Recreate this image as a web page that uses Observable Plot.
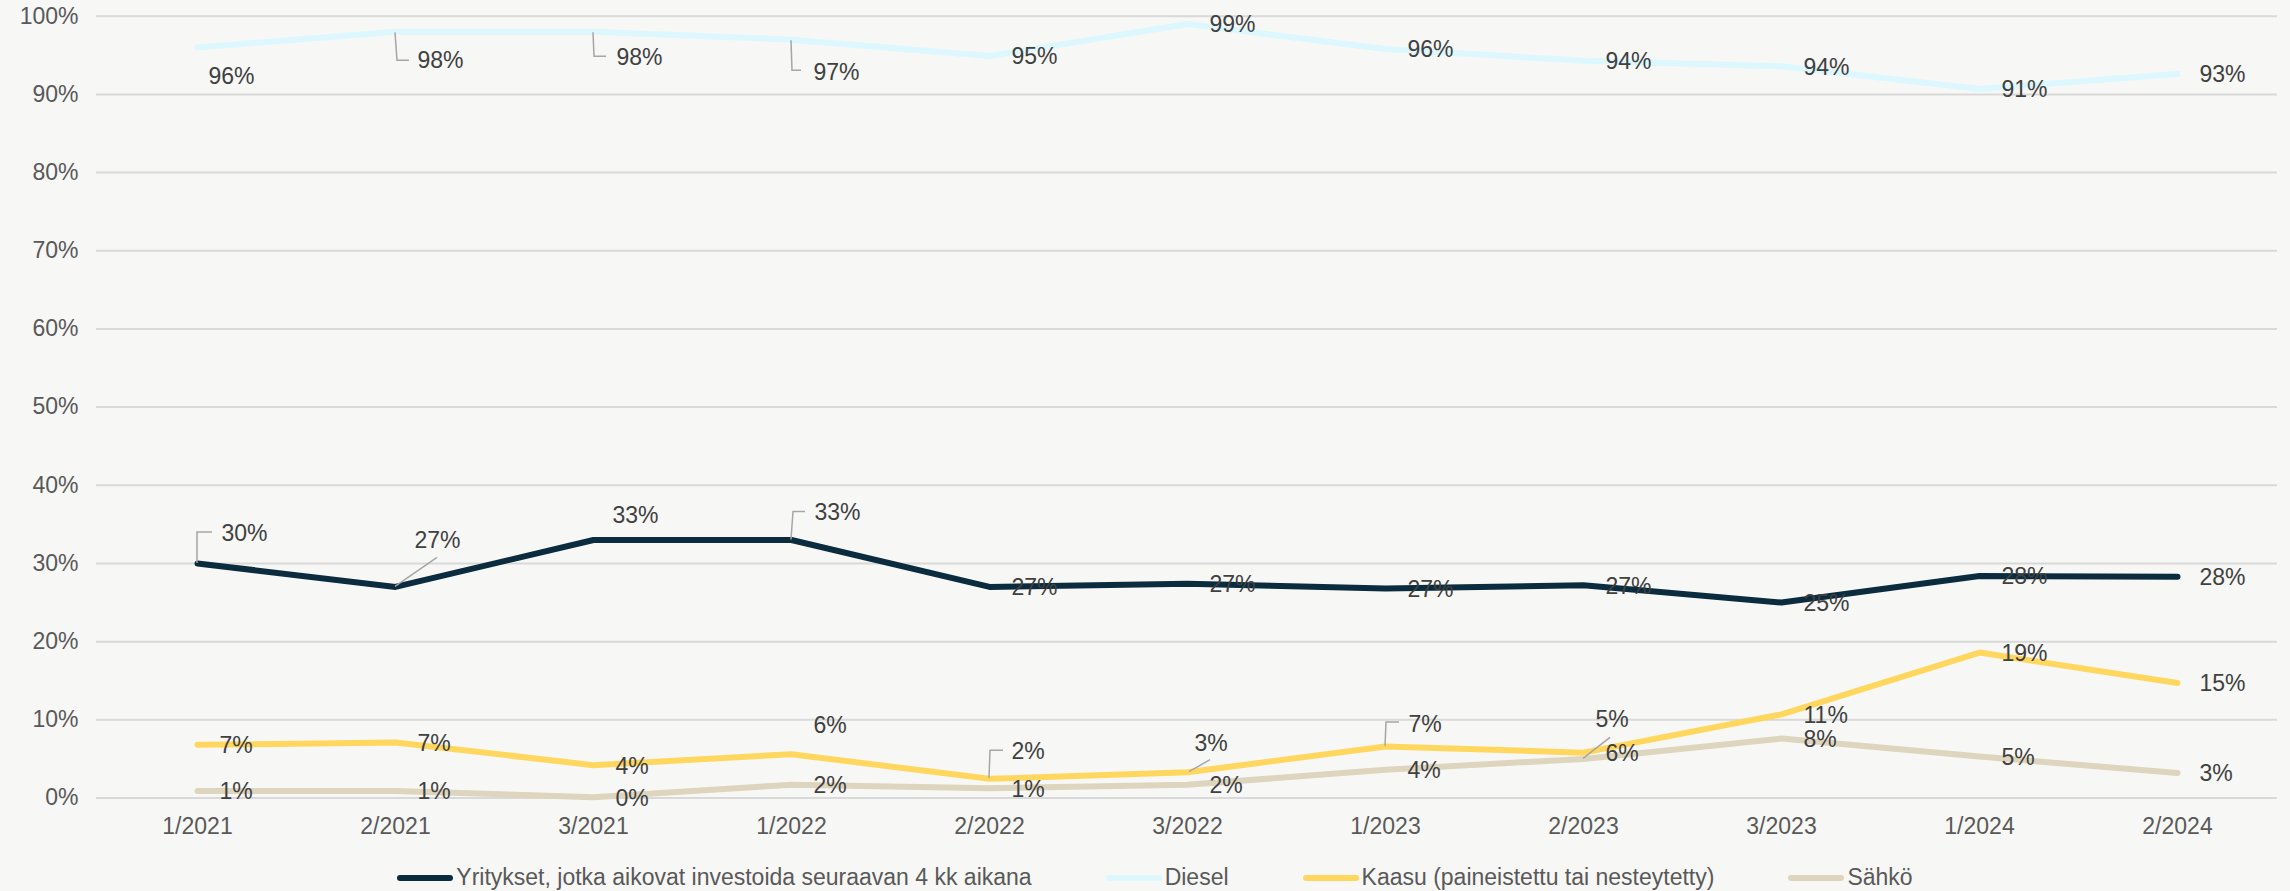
<!DOCTYPE html>
<html><head><meta charset="utf-8">
<script src="https://cdn.jsdelivr.net/npm/d3@7"></script>
<script src="https://cdn.jsdelivr.net/npm/@observablehq/plot@0.6"></script>
<style>
html,body{margin:0;padding:0;background:#f7f7f5;}
#chart{width:2290px;height:891px;font-family:Arial,"Liberation Sans",sans-serif;}
#legend{display:flex;justify-content:center;align-items:center;height:29px;gap:74px;color:#595959;font-size:23px;padding-left:20px;padding-top:1px;}
.item{display:flex;align-items:center;white-space:nowrap;}
.sw{width:56px;height:6px;border-radius:3px;margin-right:3px;}
</style></head><body><div id="chart"></div>
<script>
// ---- data ----
const periods = ["1/2021","2/2021","3/2021","1/2022","2/2022","3/2022","1/2023","2/2023","3/2023","1/2024","2/2024"];
const yritykset = [30.0, 27.0, 33.0, 33.0, 27.0, 27.4, 26.8, 27.2, 25.0, 28.4, 28.3];
const diesel    = [96.0, 98.0, 98.0, 97.0, 94.9, 99.0, 95.8, 94.3, 93.6, 90.7, 92.6];
const kaasu     = [6.8, 7.1, 4.2, 5.6, 2.45, 3.3, 6.6, 5.8, 10.7, 18.6, 14.7];
const sahko     = [0.9, 0.9, 0.1, 1.7, 1.25, 1.7, 3.6, 5.0, 7.6, 5.3, 3.2];
const seriesNames = ["Yritykset, jotka aikovat investoida seuraavan 4 kk aikana", "Diesel", "Kaasu (paineistettu tai nesteytetty)", "Sähkö"];
const yTicks = [0, 10, 20, 30, 40, 50, 60, 70, 80, 90, 100];

// ---- styling / layout ----
const seriesValues = [yritykset, diesel, kaasu, sahko];
const palette = ["#0b2b3e", "#dcf7fd", "#ffd75f", "#ddd5bd"];
// label placement: "si-pi": [dx, dy]; default right of point
const defaultPlacement = [22, 1];
const labelPlacement = {
  "0-0": [24, -30], "0-1": [19, -46], "0-2": [19, -24], "0-3": [23, -27],
  "1-0": [11, 29], "1-1": [22, 29], "1-2": [23, 26], "1-3": [22, 33],
  "2-3": [22, -29], "2-4": [22, -27], "2-5": [7, -29], "2-6": [23, -22],
  "3-7": [12, -39]
};
// leader lines: relative pixel paths from the data point
const leaderDefs = [
  {si:0, pi:0, path:[[0,0],[0,-31],[15,-31]]},
  {si:0, pi:1, path:[[0,0],[42,-29]]},
  {si:0, pi:3, path:[[0,0],[2,-28],[14,-28]]},
  {si:1, pi:1, path:[[0,1],[2,29],[14,29]]},
  {si:1, pi:2, path:[[0,1],[1,25],[13,25]]},
  {si:1, pi:3, path:[[0,1],[1,31],[10,31]]},
  {si:2, pi:4, path:[[0,0],[1,-28],[14,-28]]},
  {si:2, pi:5, path:[[2,0],[23,-12]]},
  {si:2, pi:6, path:[[0,0],[1,-24],[14,-24]]},
  {si:3, pi:7, path:[[0,0],[27,-21]]}
];

const rows = [];
seriesValues.forEach((vals, si) => vals.forEach((v, pi) => rows.push({series: seriesNames[si], period: periods[pi], value: v, si, pi, label: Math.round(v) + "%"})));

const groups = new Map();
for (const r of rows) {
  const key = r.si + "-" + r.pi;
  const p = labelPlacement[key] || defaultPlacement;
  const gk = p.join(",");
  if (!groups.has(gk)) groups.set(gk, {p, data: []});
  groups.get(gk).data.push(r);
}
const labelMarks = [...groups.values()].map(g => Plot.text(g.data, {
  x: "period", y: "value", text: "label", dx: g.p[0], dy: g.p[1],
  textAnchor: "start", fill: "#404040", fontSize: 23
}));

function leaderMark(index, scales) {
  const g = d3.create("svg:g").attr("fill", "none").attr("stroke", "#a6a6a6").attr("stroke-width", 1.5);
  for (const L of leaderDefs) {
    const px = scales.x(periods[L.pi]);
    const py = scales.y(seriesValues[L.si][L.pi]);
    g.append("path").attr("d", "M" + L.path.map(([dx, dy]) => (px + dx) + "," + (py + dy)).join("L"));
  }
  return g.node();
}

const chart = Plot.plot({
  width: 2290, height: 862,
  marginLeft: 96, marginRight: 13, marginTop: 15.7, marginBottom: 64.5,
  style: {background: "#f7f7f5", color: "#595959", fontSize: "23px", fontFamily: 'Arial, "Liberation Sans", sans-serif'},
  x: {type: "point", domain: periods, padding: 0.5, label: null},
  y: {domain: [0, 100], label: null},
  color: {domain: seriesNames, range: palette},
  marks: [
    Plot.ruleY(yTicks, {stroke: "#d9d9d9", strokeWidth: 2}),
    Plot.axisY({ticks: yTicks, tickSize: 0, tickPadding: 18, tickFormat: d => d + "%", label: null}),
    Plot.axisX({tickSize: 0, tickPadding: 19.5, label: null}),
    Plot.line(rows, {x: "period", y: "value", z: "series", stroke: "series", strokeWidth: 6, strokeLinecap: "round", strokeLinejoin: "round"}),
    leaderMark,
    ...labelMarks
  ]
});
document.getElementById("chart").appendChild(chart);

const legend = d3.select("#chart").append("div").attr("id", "legend");
seriesNames.forEach((name, i) => {
  const it = legend.append("div").attr("class", "item");
  it.append("div").attr("class", "sw").style("background", palette[i]);
  it.append("span").text(name);
});
</script></body></html>
